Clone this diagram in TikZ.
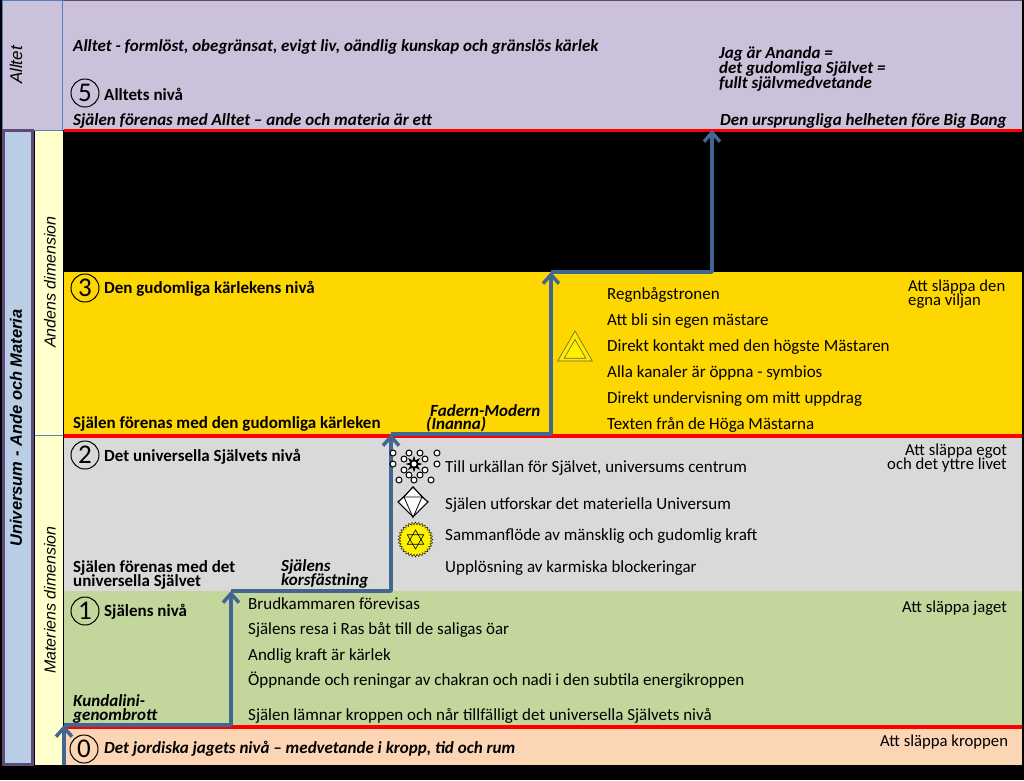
\documentclass[tikz,border=0pt]{standalone}
\usepackage{fontspec}
\setmainfont{Carlito}
\newfontfamily\arialf{Liberation Sans}
\usetikzlibrary{arrows.meta,shapes.geometric,shapes.misc}
\definecolor{lav}{HTML}{CCC1DA}
\definecolor{gold}{HTML}{FFD700}
\definecolor{grayb}{HTML}{D9D9D9}
\definecolor{greenb}{HTML}{C3D69B}
\definecolor{peach}{HTML}{FCD5B5}
\definecolor{blueb}{HTML}{B9CDE5}
\definecolor{purp}{HTML}{604A7B}
\definecolor{cream}{HTML}{FFFFCC}
\definecolor{flow}{HTML}{41668F}
\definecolor{edgeb}{HTML}{4F81BD}
\tikzset{
 x=1pt,y=-1pt,
 tx/.style={anchor=base west,inner sep=0,font=\fontsize{17}{17}\selectfont,text=black},
 nt/.style={tx,font=\fontsize{16.7}{17}\selectfont},
 bt/.style={tx,font=\fontsize{17}{17}\selectfont\bfseries},
 bi/.style={tx,font=\fontsize{17}{17}\selectfont\bfseries\itshape},
 side/.style={rotate=90,inner sep=0,font=\fontsize{16}{16}\selectfont\arialf\itshape},
 lev/.style={circle,draw=black,line width=1pt,minimum size=28pt,inner sep=0,font=\fontsize{27}{27}\selectfont},
 redl/.style={draw=red,line width=3.5pt},
 flowl/.style={draw=flow,line width=3.5pt,line join=round},
 flowa/.style={flowl,-{Straight Barb[length=9pt,width=16pt,line width=3.5pt]}},
 dot/.style={circle,draw=black,line width=1pt,fill=white,inner sep=0,minimum size=6pt},
}
\begin{document}
\begin{tikzpicture}
\useasboundingbox (0,0) rectangle (1024,780);
\fill[black] (0,0) rectangle (1024,780);
% bands
\fill[lav] (63,0) rectangle (1022,130);
\fill[gold] (64,272) rectangle (1022,435);
\fill[grayb] (64,435) rectangle (1022,591);
\fill[greenb] (64,591) rectangle (1022,726);
\fill[peach] (64,726) rectangle (1022,765);
\draw[edgeb,fill=lav,line width=1pt] (2.5,0.5) rectangle (62.5,130);
\draw[purp,line width=1pt] (62.5,0.5) -- (1022,0.5);
\fill[cream] (35,131) rectangle (63,435);
\fill[cream] (35,436) rectangle (63,765);
\draw[edgeb,line width=1pt] (35,435.5) -- (63,435.5);
\draw[purp,fill=blueb,line width=3pt] (3,130) rectangle (32,764);
% side labels
\node[side,font=\fontsize{17}{17}\selectfont\arialf\itshape] (sAlltet) at (16,65) {Alltet};
\node[side,font=\fontsize{16.5}{16}\selectfont\arialf\bfseries\itshape] (sUni) at (16,428) {Universum - Ande och Materia};
\node[side] (sAnd) at (50,282) {Andens dimension};
\node[side] (sMat) at (50,600) {Materiens dimension};
% red lines
\coordinate (r5a) at (64,130.5); \coordinate (r5b) at (1022,130.5);
\coordinate (r2a) at (64,436); \coordinate (r2b) at (1022,436);
\coordinate (r0a) at (64,727); \coordinate (r0b) at (1022,727);
\draw[redl] (r5a) -- (r5b);
\draw[redl] (r2a) -- (r2b);
\draw[redl] (r0a) -- (r0b);
% flow
\coordinate (f0) at (64,765); \coordinate (f1) at (64,725);
\coordinate (f2) at (231,725); \coordinate (f3) at (231,591);
\coordinate (f4) at (391,591); \coordinate (f5) at (391,434);
\coordinate (f6) at (551,434); \coordinate (f7) at (551,272);
\coordinate (f8) at (712,272); \coordinate (f9) at (712,130);
\draw[flowa] (f0) -- (f1);
\draw[flowa] (f1) -- (f2) -- (f3);
\draw[flowa] (f3) -- (f4) -- (f5);
\draw[flowa] (f5) -- (f6) -- (f7);
\draw[flowa] (f7) -- (f8) -- (f9);
% level 5
\node[bi] (a1) at (73,51) {Alltet - formlöst, obegränsat, evigt liv, oändlig kunskap och gränslös kärlek};
\node[lev] (c5) at (85,93) {5};
\node[bt] (a2) at (104,100) {Alltets nivå};
\node[bi] (a3) at (73,125) {Själen förenas med Alltet – ande och materia är ett};
\node[bi] (a4) at (719,58) {Jag är Ananda =};
\node[bi] (a5) at (719,73) {det gudomliga Självet =};
\node[bi] (a6) at (719,88) {fullt självmedvetande};
\node[bi] (a7) at (720,125) {Den ursprungliga helheten före Big Bang};
% level 3
\node[lev] (c3) at (85,288) {3};
\node[bt] (b1) at (104,293) {Den gudomliga kärlekens nivå};
\node[bt] (b2) at (73,428) {Själen förenas med den gudomliga kärleken};
\node[bi] (b3) at (430,416) {Fadern-Modern};
\node[bi] (b4) at (426,429) {(Inanna)};
\node[tx] (b5) at (607,299) {Regnbågstronen};
\node[tx] (b6) at (607,325) {Att bli sin egen mästare};
\node[tx] (b7) at (607,351) {Direkt kontakt med den högste Mästaren};
\node[tx] (b8) at (607,377) {Alla kanaler är öppna - symbios};
\node[tx] (b9) at (607,403) {Direkt undervisning om  mitt uppdrag};
\node[tx] (b10) at (607,429) {Texten från de Höga Mästarna};
\node[nt] (b11) at (908,291) {Att släppa den};
\node[nt] (b12) at (908,305) {egna  viljan};
\node[regular polygon,regular polygon sides=3,draw=black!70!yellow,fill=gold!50!yellow,line width=0.6pt,minimum size=40pt,inner sep=0] (tri1) at (575,351) {};
\node[regular polygon,regular polygon sides=3,draw=black!70!yellow,fill=yellow,line width=0.6pt,minimum size=25pt,inner sep=0] (tri2) at (575,352) {};
% level 2
\node[lev] (c2) at (85,455) {2};
\node[bt] (d1) at (104,461) {Det universella Självets nivå};
\node[bt] (d2) at (73,572) {Själen förenas med det};
\node[bt] (d3) at (73,586) {universella Självet};
\node[bi] (d4) at (281,571) {Själens};
\node[bi] (d5) at (281,585) {korsfästning};
\node[tx] (d6) at (445,472) {Till urkällan för Självet, universums centrum};
\node[tx] (d7) at (445,509) {Själen utforskar det materiella Universum};
\node[tx] (d8) at (445,540) {Sammanflöde av mänsklig och gudomlig kraft};
\node[tx] (d9) at (445,572) {Upplösning av karmiska blockeringar};
\node[nt] (d10) at (905,455) {Att släppa egot};
\node[nt] (d11) at (887,469) {och det yttre livet};
% icon: star with dots
\node[star,star points=8,star point ratio=2.2,fill=black,inner sep=0,minimum size=17pt] (st) at (414,464) {};
\node[circle,fill=white,inner sep=0,minimum size=5pt] (stc) at (414,464) {};
\foreach \n/\px/\py in {p1/393/453,p2/393/464,p3/399/480,p4/409/453,p5/420/453,p6/437/453,p7/437/464,p8/431/480,p9/404/459,p10/425/459,p11/404/470,p12/425/470,p13/409/475,p14/420/475,p15/414/480}{
 \node[dot] (\n) at (\px,\py) {};
}
% icon: octahedron
\node[diamond,draw=black,fill=white,line width=1pt,minimum width=30pt,minimum height=30pt,inner sep=0] (oc) at (413,502) {};
\coordinate (oc1) at (404,497); \coordinate (oc2) at (422,497);
\draw[black,line width=0.8pt] (oc.west) -- (oc1) -- (oc2) -- (oc.east);
\draw[black,line width=0.8pt] (oc.north) -- (oc1) -- (oc.south) -- (oc2) -- (oc.north);
% icon: sun
\node[star,star points=32,star point ratio=1.18,draw=black,fill=yellow,line width=0.4pt,inner sep=0,minimum size=35pt] (sun) at (415.5,539.5) {};
\node[regular polygon,regular polygon sides=3,draw=black,line width=0.6pt,inner sep=0,minimum size=19pt] (su1) at (415.5,539.5) {};
\node[regular polygon,regular polygon sides=3,shape border rotate=180,draw=black,line width=0.6pt,inner sep=0,minimum size=19pt] (su2) at (415.5,539.5) {};
% level 1
\node[lev] (c1) at (85,611) {1};
\node[bt] (e1) at (104,616) {Själens nivå};
\node[bi] (e2) at (73,706) {Kundalini-};
\node[bi] (e3) at (73,720) {genombrott};
\node[tx] (e4) at (248,609) {Brudkammaren förevisas};
\node[tx] (e5) at (248,634) {Själens resa i Ras båt till de saligas öar};
\node[tx] (e6) at (248,660) {Andlig kraft är kärlek};
\node[tx] (e7) at (248,685) {Öppnande och reningar av chakran och nadi i den subtila energikroppen};
\node[tx] (e8) at (248,720) {Själen lämnar kroppen och når tillfälligt det universella Självets nivå};
\node[nt] (e9) at (902,612) {Att släppa jaget};
% level 0
\node[lev] (c0) at (84,749) {0};
\node[bi] (g1) at (104,753) {Det jordiska jagets nivå – medvetande i kropp, tid och rum};
\node[nt] (g2) at (880,746) {Att släppa kroppen};
\end{tikzpicture}
\end{document}
